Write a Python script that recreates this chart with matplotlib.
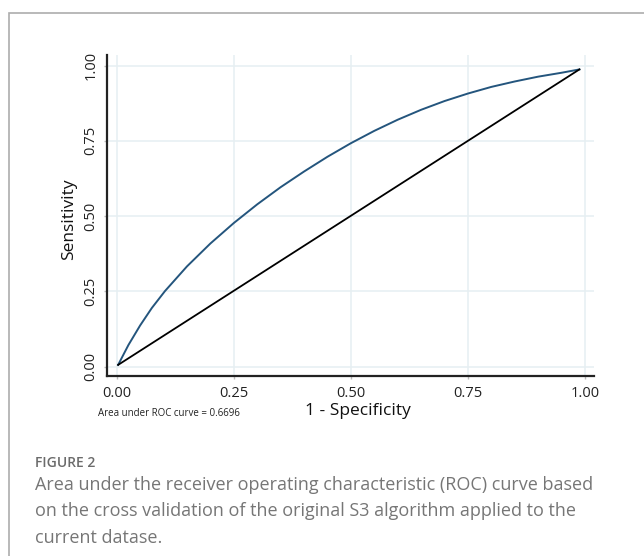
import numpy as np
import matplotlib.pyplot as plt
from matplotlib.patches import Rectangle

# ROC curve points
fpr = [0.003, 0.025, 0.05, 0.075, 0.103, 0.15, 0.2, 0.25, 0.3, 0.35, 0.4, 0.45,
       0.5, 0.55, 0.6, 0.65, 0.7, 0.75, 0.8, 0.85, 0.9, 0.95, 0.988]
tpr = [0.006, 0.072, 0.137, 0.195, 0.251, 0.333, 0.409, 0.477, 0.539, 0.596, 0.648,
       0.697, 0.742, 0.783, 0.82, 0.853, 0.882, 0.907, 0.929, 0.947, 0.963, 0.976, 0.987]
# reference (chance) line
ref_x = [0.003, 0.988]
ref_y = [0.006, 0.987]

ticks = [0.0, 0.25, 0.5, 0.75, 1.0]
tick_labels = ["0.00", "0.25", "0.50", "0.75", "1.00"]
auc_note = "Area under ROC curve = 0.6696"
caption_head = "FIGURE 2"
caption = ("Area under the receiver operating characteristic (ROC) curve based\n"
           "on the cross validation of the original S3 algorithm applied to the\n"
           "current datase.")

W, H = 644, 556
fig = plt.figure(figsize=(W / 100, H / 100), dpi=100)
plt.rcParams['font.family'] = ['Open Sans', 'DejaVu Sans']

# outer frame of the figure panel (runs off right/bottom edge)
fig.patches.append(Rectangle((9 / W, -0.1), 1.2, 1 - 13 / H + 0.1,
                             transform=fig.transFigure, fill=False,
                             edgecolor="#adadad", linewidth=1.2))

left, right, top, bottom = 106.7, 594, 55, 376
ax = fig.add_axes([left / W, 1 - bottom / H, (right - left) / W, (bottom - top) / H])

ax.plot(fpr, tpr, color="#24557d", linewidth=1.4, zorder=3)
ax.plot(ref_x, ref_y, color="black", linewidth=1.3, zorder=3)

ax.set_xlim(-0.0214, 1.0192)
ax.set_ylim(-0.0309, 1.0349)
ax.set_xticks(ticks)
ax.set_xticklabels(tick_labels)
ax.set_yticks(ticks)
ax.set_yticklabels(tick_labels, rotation=90, va="center")
ax.grid(True, color="#e6eff2", linewidth=1.1)
ax.set_axisbelow(True)

for s in ["top", "right"]:
    ax.spines[s].set_visible(False)
for s in ["left", "bottom"]:
    ax.spines[s].set_color("#222222")
    ax.spines[s].set_linewidth(1.6)

ax.tick_params(axis="x", length=2, width=1, color="#bbbbbb", pad=5.5,
               labelsize=10.5, labelcolor="#222222")
ax.tick_params(axis="y", length=2, width=1, color="#bbbbbb", pad=4,
               labelsize=10.5, labelcolor="#222222")

ax.set_xlabel("1 - Specificity", fontsize=12.5, color="#111111")
ax.xaxis.set_label_coords(0.516, -0.083)
ax.set_ylabel("Sensitivity", fontsize=12.5, color="#111111")
ax.yaxis.set_label_coords(-0.061, 0.49)

fig.text(98 / W, 1 - 414 / H, auc_note, fontsize=7, color="#222222", va="center")

fig.text(35 / W, 1 - 463 / H, caption_head, fontsize=10, color="#6b6b6b",
         va="center", fontweight="semibold")
fig.text(35 / W, 1 - 476 / H, caption, fontsize=13, color="#767676",
         va="top", linespacing=1.6)

fig.savefig("out.png", dpi=100)
